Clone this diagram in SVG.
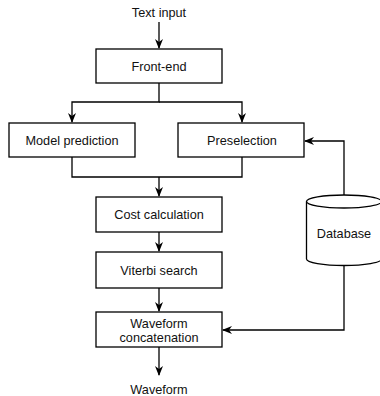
<svg xmlns="http://www.w3.org/2000/svg" width="380" height="396" viewBox="0 0 380 396">
<style>
.box{fill:#fff;stroke:#000;stroke-width:1.3}
.t{font-family:"Liberation Sans",Arial,sans-serif;font-size:12.7px;fill:#111;text-anchor:middle}
.c{fill:none;stroke:#000;stroke-width:1.3}
</style>
<defs>
<marker id="ah" viewBox="0 0 10 10" refX="9" refY="5" markerWidth="10" markerHeight="10" markerUnits="userSpaceOnUse" orient="auto">
<path d="M0,1 L10,5 L0,9 L3,5 z" fill="#000"/>
</marker>
</defs>
<rect width="380" height="396" fill="#fff"/>
<g id="connectors">
<path class="c" d="M159,22 V48" marker-end="url(#ah)"/>
<path class="c" d="M159,83 V102 H72 V122" marker-end="url(#ah)"/>
<path class="c" d="M159,102 H242 V122" marker-end="url(#ah)"/>
<path class="c" d="M72,157 V177 H242 V157"/>
<path class="c" d="M159,177 V196" marker-end="url(#ah)"/>
<path class="c" d="M159,232 V251" marker-end="url(#ah)"/>
<path class="c" d="M159,288 V311" marker-end="url(#ah)"/>
<path class="c" d="M159,347 V375" marker-end="url(#ah)"/>
<path class="c" d="M344,195 V141 H305" marker-end="url(#ah)"/>
<path class="c" d="M344,266 V330 H223" marker-end="url(#ah)"/>
</g>
<g id="text-input"><text class="t" x="159" y="17">Text input</text></g>
<g id="front-end"><rect class="box" x="96" y="49" width="126" height="34"/><text class="t" x="159" y="70.5">Front-end</text></g>
<g id="model-prediction"><rect class="box" x="9" y="123" width="126" height="34"/><text class="t" x="72" y="144.5">Model prediction</text></g>
<g id="preselection"><rect class="box" x="178" y="123" width="126" height="34"/><text class="t" x="242" y="144.5">Preselection</text></g>
<g id="cost-calculation"><rect class="box" x="96" y="197" width="126" height="35"/><text class="t" x="159" y="219">Cost calculation</text></g>
<g id="viterbi-search"><rect class="box" x="96" y="252" width="126" height="36"/><text class="t" x="159" y="274.5">Viterbi search</text></g>
<g id="waveform-concatenation"><rect class="box" x="96" y="312" width="126" height="35"/><text class="t" x="159" y="327.5">Waveform</text><text class="t" x="159" y="342">concatenation</text></g>
<g id="waveform"><text class="t" x="159" y="394">Waveform</text></g>
<g id="database">
<path class="box" d="M306.5,201.5 V259 A37.5,6.5 0 0 0 381.5,259 V201.5"/>
<ellipse class="box" cx="344" cy="201.5" rx="37.5" ry="6.5"/>
<text class="t" x="344" y="237.5">Database</text>
</g>
</svg>
